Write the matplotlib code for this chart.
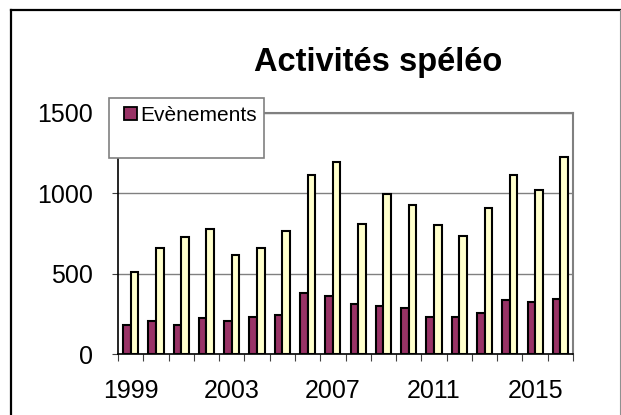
import numpy as np
import matplotlib
matplotlib.use("Agg")
import matplotlib.pyplot as plt
from matplotlib.patches import Rectangle, Patch
from matplotlib.lines import Line2D

years = list(range(1999, 2017))
evenements = [180, 203, 180, 221, 203, 231, 244, 376, 358,
              308, 300, 285, 231, 227, 254, 335, 320, 339]
sorties = [510, 661, 727, 777, 618, 659, 767, 1110, 1194,
           810, 995, 926, 800, 732, 907, 1110, 1021, 1221]
year_labels = ["1999", "2003", "2007", "2011", "2015"]

W, H = 621, 415
plt.rcParams["font.family"] = ["Liberation Sans", "DejaVu Sans"]

fig = plt.figure(figsize=(W / 100, H / 100), dpi=100)

def px(x0, y0, x1, y1):
    # pixel box (top-left origin) -> figure fraction rect
    return [x0 / W, 1 - y1 / H, (x1 - x0) / W, (y1 - y0) / H]

ax = fig.add_axes(px(118, 112.5, 573, 354))

x = np.arange(len(years))
bw = 0.3
ax.bar(x - bw / 2, evenements, bw, color="#993366", edgecolor="black",
       linewidth=1.5, zorder=3)
ax.bar(x + bw / 2, sorties, bw, color="#FFFFCC", edgecolor="black",
       linewidth=1.5, zorder=3)

ax.set_xlim(-0.5, len(years) - 0.5)
ax.set_ylim(0, 1500)

ax.set_yticks([0, 500, 1000, 1500])
ax.set_yticklabels(["0", "500", "1000", "1500"])
ax.yaxis.grid(True, color="#808080", linewidth=1.0, zorder=0)
ax.tick_params(axis="y", length=4, width=0.8, color="#404040",
               labelsize=18, pad=14)

label_pos = [years.index(int(y)) for y in year_labels]
ax.set_xticks(label_pos)
ax.set_xticklabels(year_labels)
ax.set_xticks(np.arange(-0.5, len(years)), minor=True)
ax.tick_params(axis="x", which="major", length=0, labelsize=18, pad=18)
ax.tick_params(axis="x", which="minor", length=5, width=0.8, color="#404040")

for side in ("left", "bottom"):
    ax.spines[side].set_color("black")
    ax.spines[side].set_linewidth(1.2)
for side in ("top", "right"):
    ax.spines[side].set_color("#808080")
    ax.spines[side].set_linewidth(1.5)

fig.text(378 / W, 1 - 71.5 / H, "Activités spéléo", ha="center",
         va="baseline", fontsize=23.5, fontweight="bold")

# legend box sits over the top-left corner of the plot area
fig.add_artist(Rectangle(px(109, 98, 264, 158)[:2], (264 - 109) / W,
                         (158 - 98) / H, transform=fig.transFigure,
                         facecolor="white", edgecolor="#808080",
                         linewidth=1.2, zorder=5))
fig.legend(handles=[Patch(facecolor="#993366", edgecolor="black",
                          linewidth=1.3)],
           labels=["Evènements"], loc="upper left",
           bbox_to_anchor=(124 / W, 1 - 106 / H), frameon=False,
           fontsize=15, handlelength=0.6, handleheight=0.6,
           handletextpad=0.18, borderpad=0, borderaxespad=0).set_zorder(6)

# outer chart frame
fig.add_artist(Line2D([11 / W, 11 / W], [0, 1 - 10.5 / H], color="black",
                      linewidth=1.6, transform=fig.transFigure))
fig.add_artist(Line2D([11 / W, 620 / W], [1 - 10.5 / H, 1 - 10.5 / H],
                      color="black", linewidth=1.6,
                      transform=fig.transFigure))
fig.add_artist(Line2D([620 / W, 620 / W], [0, 1 - 10.5 / H],
                      color="#909090", linewidth=0.8,
                      transform=fig.transFigure))

fig.savefig("out.png", dpi=100)
